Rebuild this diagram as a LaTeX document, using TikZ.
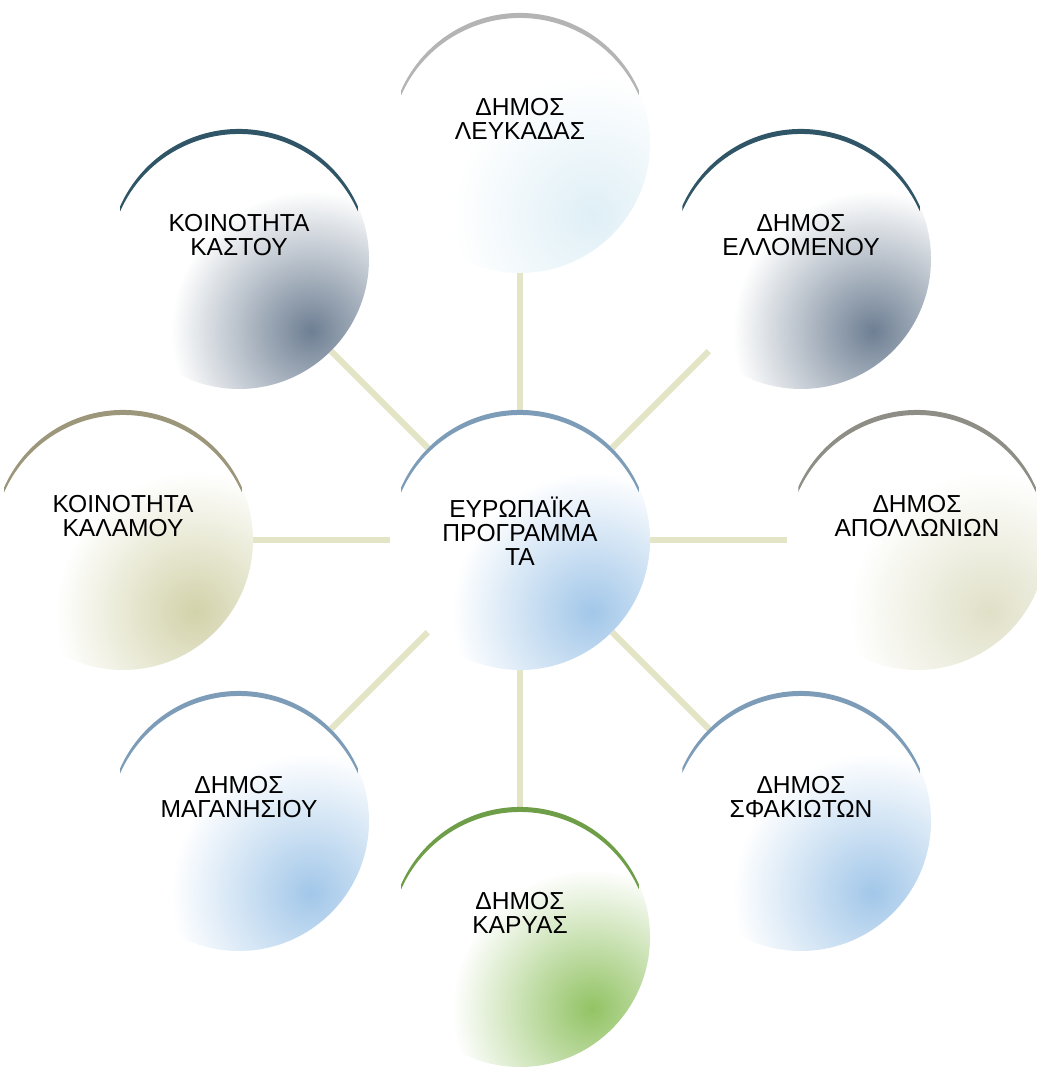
\documentclass[tikz,border=0pt]{standalone}
\usepackage{fontspec}
\setmainfont{Liberation Sans}
\usepackage{xcolor}
\usetikzlibrary{positioning}

\definecolor{slateedge}{HTML}{6E7F93}
\definecolor{slatearc}{HTML}{2F5566}
\definecolor{blueedge}{HTML}{A2C7E9}
\definecolor{bluearc}{HTML}{7D9CB8}
\definecolor{greenedge}{HTML}{92C364}
\definecolor{greenarc}{HTML}{6E9E48}
\definecolor{khakiedge}{HTML}{D2D2AA}
\definecolor{khakiarc}{HTML}{9C967A}
\definecolor{beigeedge}{HTML}{E0E0C8}
\definecolor{beigearc}{HTML}{8E8E86}
\definecolor{paleedge}{HTML}{DFEFF6}
\definecolor{palearc}{HTML}{B4B4B4}
\definecolor{spokecol}{HTML}{E4E4C6}

\pgfdeclarelayer{spokes}
\pgfdeclarelayer{glow}
\pgfsetlayers{spokes,glow,main}

\tikzset{
  bubble/.style={circle,minimum size=5.2cm,inner sep=0pt},
  bubbletext/.style={align=center,font=\fontsize{14}{13.5}\selectfont,yshift=0.48cm},
  spoke/.style={draw=spokecol,line width=3.5pt}
}

\begin{document}
\begin{tikzpicture}[x=0.02cm,y=0.02cm]
  \useasboundingbox (0,0) rectangle (1036,1070);

  % hub
  \node[bubble,label={[bubbletext,yshift=-0.3cm]center:{ΕΥΡΩΠΑΪΚΑ\\ΠΡΟΓΡΑΜΜΑ\\ΤΑ}}] (hub) at (520,530) {};

  % outer ring
  \node[bubble,label={[bubbletext]center:{ΔΗΜΟΣ\\ΛΕΥΚΑΔΑΣ}}] (lefkada) at (520,927) {};
  \node[bubble,label={[bubbletext]center:{ΔΗΜΟΣ\\ΕΛΛΟΜΕΝΟΥ}}] (ellomenos) at (801,811) {};
  \node[bubble,label={[bubbletext]center:{ΔΗΜΟΣ\\ΑΠΟΛΛΩΝΙΩΝ}}] (apollonioi) at (917,530) {};
  \node[bubble,label={[bubbletext]center:{ΔΗΜΟΣ\\ΣΦΑΚΙΩΤΩΝ}}] (sfakiotes) at (801,249) {};
  \node[bubble,label={[bubbletext]center:{ΔΗΜΟΣ\\ΚΑΡΥΑΣ}}] (karya) at (520,133) {};
  \node[bubble,label={[bubbletext]center:{ΔΗΜΟΣ\\ΜΑΓΑΝΗΣΙΟΥ}}] (maganisi) at (239,249) {};
  \node[bubble,label={[bubbletext]center:{ΚΟΙΝΟΤΗΤΑ\\ΚΑΛΑΜΟΥ}}] (kalamos) at (123,530) {};
  \node[bubble,label={[bubbletext]center:{ΚΟΙΝΟΤΗΤΑ\\ΚΑΣΤΟΥ}}] (kastos) at (239,811) {};

  % glass fill, darker towards lower right, and top arc
  \foreach \n/\c/\a in {hub/blueedge/bluearc, lefkada/paleedge/palearc,
      ellomenos/slateedge/slatearc, apollonioi/beigeedge/beigearc,
      sfakiotes/blueedge/bluearc, karya/greenedge/greenarc,
      maganisi/blueedge/bluearc, kalamos/khakiedge/khakiarc,
      kastos/slateedge/slatearc}{
    \begin{pgfonlayer}{glow}
      \fill[white] (\n.center) circle[radius=130];
      \begin{scope}
        \clip (\n.center) circle[radius=130];
        \shade[inner color=\c,outer color=white] ([shift={(72,-72)}]\n.center) circle[radius=140];
      \end{scope}
    \end{pgfonlayer}
    \fill[\a] ([shift={(24:130)}]\n.center) arc[start angle=24,end angle=156,radius=130]
      -- ++(0,-5) arc[start angle=156,end angle=24,radius=130] -- cycle;
  }

  % spokes behind the bubbles
  \begin{pgfonlayer}{spokes}
    \foreach \n in {lefkada,ellomenos,apollonioi,sfakiotes,karya,maganisi,kalamos,kastos}
      \draw[spoke] (hub) -- (\n);
  \end{pgfonlayer}
\end{tikzpicture}
\end{document}
